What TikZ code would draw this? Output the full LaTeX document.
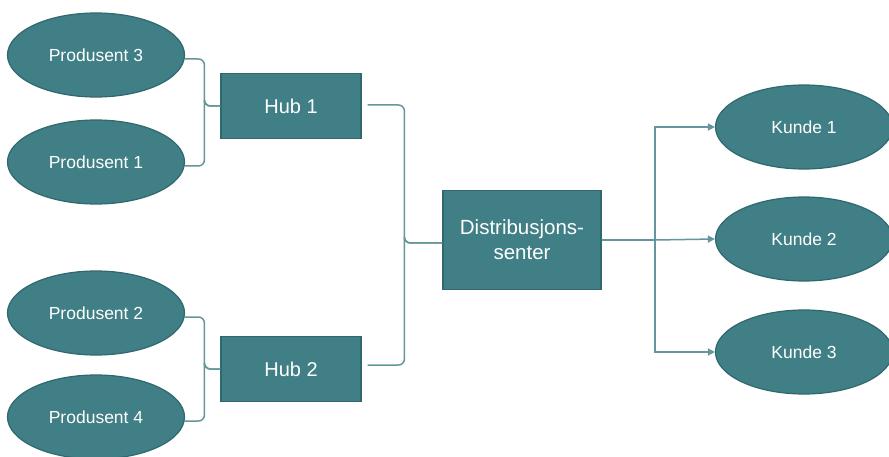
\documentclass[tikz,border=0pt]{standalone}
\usepackage{fontspec}
\setmainfont{Liberation Sans}
\usetikzlibrary{arrows.meta,shapes.geometric}
\definecolor{tealfill}{RGB}{63,127,133}
\definecolor{tealedge}{RGB}{47,104,110}
\definecolor{linkcol}{RGB}{100,150,156}
\tikzset{
  party/.style={ellipse, draw=tealedge, line width=1.2pt, fill=tealfill,
    minimum width=177pt, minimum height=84pt, inner sep=0pt,
    text=white, font=\fontsize{17.5}{21}\selectfont},
  hubbox/.style={rectangle, draw=tealedge, line width=1.2pt, fill=tealfill,
    minimum width=140pt, minimum height=65pt, inner sep=0pt,
    text=white, font=\fontsize{20}{24}\selectfont},
  centerbox/.style={rectangle, draw=tealedge, line width=1.2pt, fill=tealfill,
    minimum width=158pt, minimum height=99pt, inner sep=0pt, align=center,
    text=white, font=\fontsize{20.5}{25}\selectfont},
  link/.style={draw=linkcol, line width=1.5pt, rounded corners=6pt},
  feed/.style={draw=linkcol, line width=1.5pt,
    -{Triangle[length=7pt,width=7pt]}},
}
\begin{document}
\begin{tikzpicture}[x=1pt,y=-1pt]
\useasboundingbox[fill=white] (0,0) rectangle (889,457);

% producers
\node[party] (p3) at (96,55)  {Produsent 3};
\node[party] (p1) at (96,162) {Produsent 1};
\node[party] (p2) at (96,313) {Produsent 2};
\node[party] (p4) at (96,417) {Produsent 4};

% hubs and distribution centre
\node[hubbox] (h1) at (291,106) {Hub 1};
\node[hubbox] (h2) at (291,369) {Hub 2};
\node[centerbox] (ds) at (522,240) {Distribusjons-\\senter};

% customers
\node[party] (k1) at (804,127) {Kunde 1};
\node[party] (k2) at (804,239) {Kunde 2};
\node[party] (k3) at (804,352) {Kunde 3};

% producers into hubs
\draw[link] ([yshift=-4pt]p3.east) -| ([xshift=-16pt]h1.west) |- (h1.west);
\draw[link] ([yshift=-4pt]p1.east) -| ([xshift=-16pt]h1.west) |- (h1.west);
\draw[link] ([yshift=-4pt]p2.east) -| ([xshift=-16pt]h2.west) |- (h2.west);
\draw[link] ([yshift=-4pt]p4.east) -| ([xshift=-16pt]h2.west) |- (h2.west);

% hubs into the distribution centre
\draw[link] ([xshift=6pt,yshift=1pt]h1.east) -| ([xshift=-38pt,yshift=-3pt]ds.west) |- ([yshift=-3pt]ds.west);
\draw[link] ([xshift=6pt,yshift=4pt]h2.east) -| ([xshift=-38pt,yshift=-3pt]ds.west) |- ([yshift=-3pt]ds.west);

% distribution centre out to customers
\coordinate (fork) at (655,240);
\draw[feed] (ds.east) -- (fork) |- (k1.west);
\draw[feed] (ds.east) -- (fork) -- (k2.west);
\draw[feed] (ds.east) -- (fork) |- (k3.west);
\end{tikzpicture}
\end{document}
